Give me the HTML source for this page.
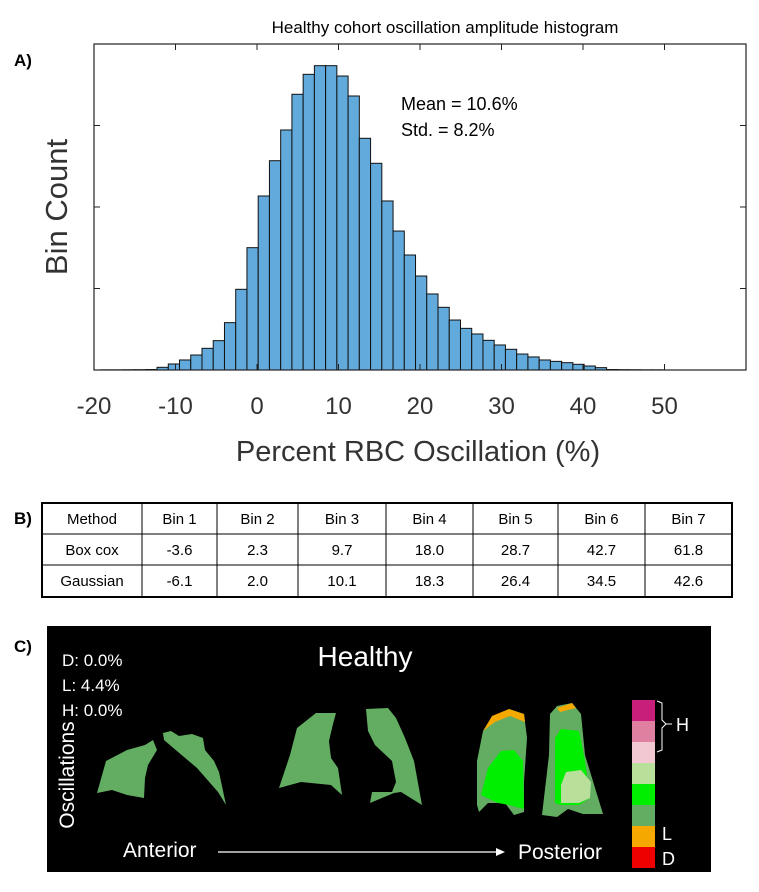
<!DOCTYPE html>
<html><head><meta charset="utf-8"><style>
body{margin:0;background:#fff;width:759px;height:887px;overflow:hidden;font-family:"Liberation Sans",Arial,sans-serif;}
svg text{font-family:"Liberation Sans",Arial,sans-serif;}
</style></head><body>
<svg id="fig" width="759" height="887" xmlns="http://www.w3.org/2000/svg">
<text x="445" y="33" font-size="17" text-anchor="middle">Healthy cohort oscillation amplitude histogram</text>
<text x="14" y="66" font-size="17" font-weight="bold">A)</text>
<g id="bars"></g>
<rect x="94" y="44" width="652" height="326" fill="none" stroke="#222" stroke-width="1.2"/>
<g id="ticks"></g>
<text x="401" y="110" font-size="18">Mean = 10.6%</text>
<text x="401" y="136" font-size="18">Std. = 8.2%</text>
<text transform="translate(67,207) rotate(-90)" font-size="31" text-anchor="middle" fill="#333">Bin Count</text>
<text x="418" y="461" font-size="29" text-anchor="middle" fill="#333">Percent RBC Oscillation (%)</text>

<text x="14" y="524" font-size="17" font-weight="bold">B)</text>
<g id="table"></g>

<text x="14" y="652" font-size="17" font-weight="bold">C)</text>
<rect x="47" y="626" width="664" height="246" fill="#000"/>
<text x="365" y="666" font-size="28" fill="#fff" text-anchor="middle">Healthy</text>
<text x="62" y="666" font-size="17" fill="#fff">D: 0.0%</text>
<text x="62" y="691" font-size="17" fill="#fff">L: 4.4%</text>
<text x="62" y="716" font-size="17" fill="#fff">H: 0.0%</text>
<text transform="translate(74,775) rotate(-90)" font-size="21" fill="#fff" text-anchor="middle">Oscillations</text>
<text x="123" y="857" font-size="21" fill="#fff">Anterior</text>
<text x="518" y="859" font-size="21" fill="#fff">Posterior</text>
<line x1="218" y1="852" x2="496" y2="852" stroke="#fff" stroke-width="1.2"/>
<polygon points="496,848 505,852 496,856" fill="#fff"/>
<g fill="#62ad62">
<polygon points="97,793 106,761 127,750 145,745 153,740 157,750 148,765 145,778 144,798 127,795 112,790"/>
<polygon points="163,733 171,731 179,736 192,734 203,738 205,750 214,761 219,772 226,805 218,792 197,768 171,746 164,740"/>
<polygon points="279,788 290,755 297,728 316,713 336,713 333,724 329,741 331,758 338,768 342,795 331,785 301,782"/>
<polygon points="366,709 388,708 396,718 405,738 414,761 422,805 401,792 394,793 370,803 372,792 392,792 396,782 392,761 375,745 368,731"/>
<polygon points="477,805 477,761 483,731 492,718 509,709 524,714 527,738 524,782 524,812 514,815 505,803 488,803 479,812"/>
<polygon fill="#f5a800" points="483,731 492,716 509,709 524,714 525,722 510,716 495,722"/>
<polygon fill="#00ee00" points="481,795 488,768 501,751 514,750 523,761 524,809 509,805 498,803"/>
<polygon points="542,815 549,755 550,714 557,706 572,703 581,714 585,755 603,814 583,814 568,809 557,817"/>
<polygon fill="#f5a800" points="557,708 572,703 576,708 560,712"/>
<polygon fill="#00ee00" points="555,803 555,738 561,729 579,731 585,761 590,798 579,805 561,805"/>
<polygon fill="#b8e09a" points="561,785 566,772 581,770 591,782 590,798 579,803 561,803"/>
</g>
<g id="cbar"></g>
<path d="M657,701 L662,703 L662,720 L666,724 L662,728 L662,750 L657,752" fill="none" stroke="#fff" stroke-width="1"/>
<line x1="666" y1="724" x2="672" y2="724" stroke="#fff"/>
<text x="676" y="731" font-size="18" fill="#fff">H</text>
<text x="662" y="840" font-size="18" fill="#fff">L</text>
<text x="662" y="865" font-size="18" fill="#fff">D</text>
</svg>
<script>
const NS="http://www.w3.org/2000/svg";
const binStart=-19.16;
const binWidth=1.379;
const counts=[2,2,3,4,6,33,74,123,184,266,360,581,990,1501,2135,2568,2945,3383,3628,3734,3734,3607,3362,2843,2536,2074,1705,1411,1153,933,769,613,511,442,364,307,254,196,160,123,106,90,70,49,29,6,4,3,2,2];
const xTicks=[-20,-10,0,10,20,30,40,50];
const yTicks=[1000,2000,3000];
const tableHeader=["Method","Bin 1","Bin 2","Bin 3","Bin 4","Bin 5","Bin 6","Bin 7"];
const boxCox=["Box cox","-3.6","2.3","9.7","18.0","28.7","42.7","61.8"];
const gaussian=["Gaussian","-6.1","2.0","10.1","18.3","26.4","34.5","42.6"];
const cbarColors=["#c8207a","#e080a0","#f2c8d2","#b8e09a","#00ee00","#62ad62","#f5a800","#ee0000"];

const X0=94,X1=746,Y0=370,Y1=44,xmin=-20,xmax=60,ymax=4000;
const xs=v=>X0+(v-xmin)/(xmax-xmin)*(X1-X0);
const ys=v=>Y0-v/ymax*(Y0-Y1);
function mk(tag,attrs,parent){const e=document.createElementNS(NS,tag);for(const k in attrs)e.setAttribute(k,attrs[k]);parent.appendChild(e);return e;}

const gb=document.getElementById('bars');
counts.forEach((c,i)=>{
  const a=binStart+i*binWidth,b=a+binWidth;
  const r=mk('rect',{x:xs(a),y:ys(c),width:xs(b)-xs(a),height:Y0-ys(c),fill:'#62aadb',stroke:'#111','stroke-width':1},gb);
  
  
});
const gt=document.getElementById('ticks');
xTicks.forEach(t=>{
  const x=xs(t);
  mk('line',{x1:x,y1:Y0,x2:x,y2:Y0-6,stroke:'#222'},gt);
  mk('line',{x1:x,y1:Y1,x2:x,y2:Y1+6,stroke:'#222'},gt);
  const tx=mk('text',{x:x,y:414,'font-size':24,'text-anchor':'middle',fill:'#333'},gt);
  tx.textContent=String(t);
  
  
});
yTicks.forEach(t=>{
  const y=ys(t);
  mk('line',{x1:X0,y1:y,x2:X0+6,y2:y,stroke:'#222'},gt);
  mk('line',{x1:X1,y1:y,x2:X1-6,y2:y,stroke:'#222'},gt);
});

const gtab=document.getElementById('table');
const colX=[42,142,217,298,386,473,558,645,732];
const rowY=[503,534,565,597];
[tableHeader,boxCox,gaussian].forEach((row,ri)=>{
  row.forEach((cell,ci)=>{
    const t=mk('text',{x:(colX[ci]+colX[ci+1])/2,y:rowY[ri]+21,'font-size':15,'text-anchor':'middle'},gtab);
    t.textContent=cell;
    
    
  });
});
mk('rect',{x:42,y:503,width:690,height:94,fill:'none',stroke:'#000','stroke-width':2},gtab);
rowY.slice(1,3).forEach(y=>mk('line',{x1:42,y1:y,x2:732,y2:y,stroke:'#000','stroke-width':1},gtab));
colX.slice(1,8).forEach(x=>mk('line',{x1:x,y1:503,x2:x,y2:597,stroke:'#000','stroke-width':1},gtab));

const gc=document.getElementById('cbar');
cbarColors.forEach((c,i)=>{
  const r=mk('rect',{x:632,y:700+i*21,width:23,height:21,fill:c},gc);
  
  
});
</script>
</body></html>
